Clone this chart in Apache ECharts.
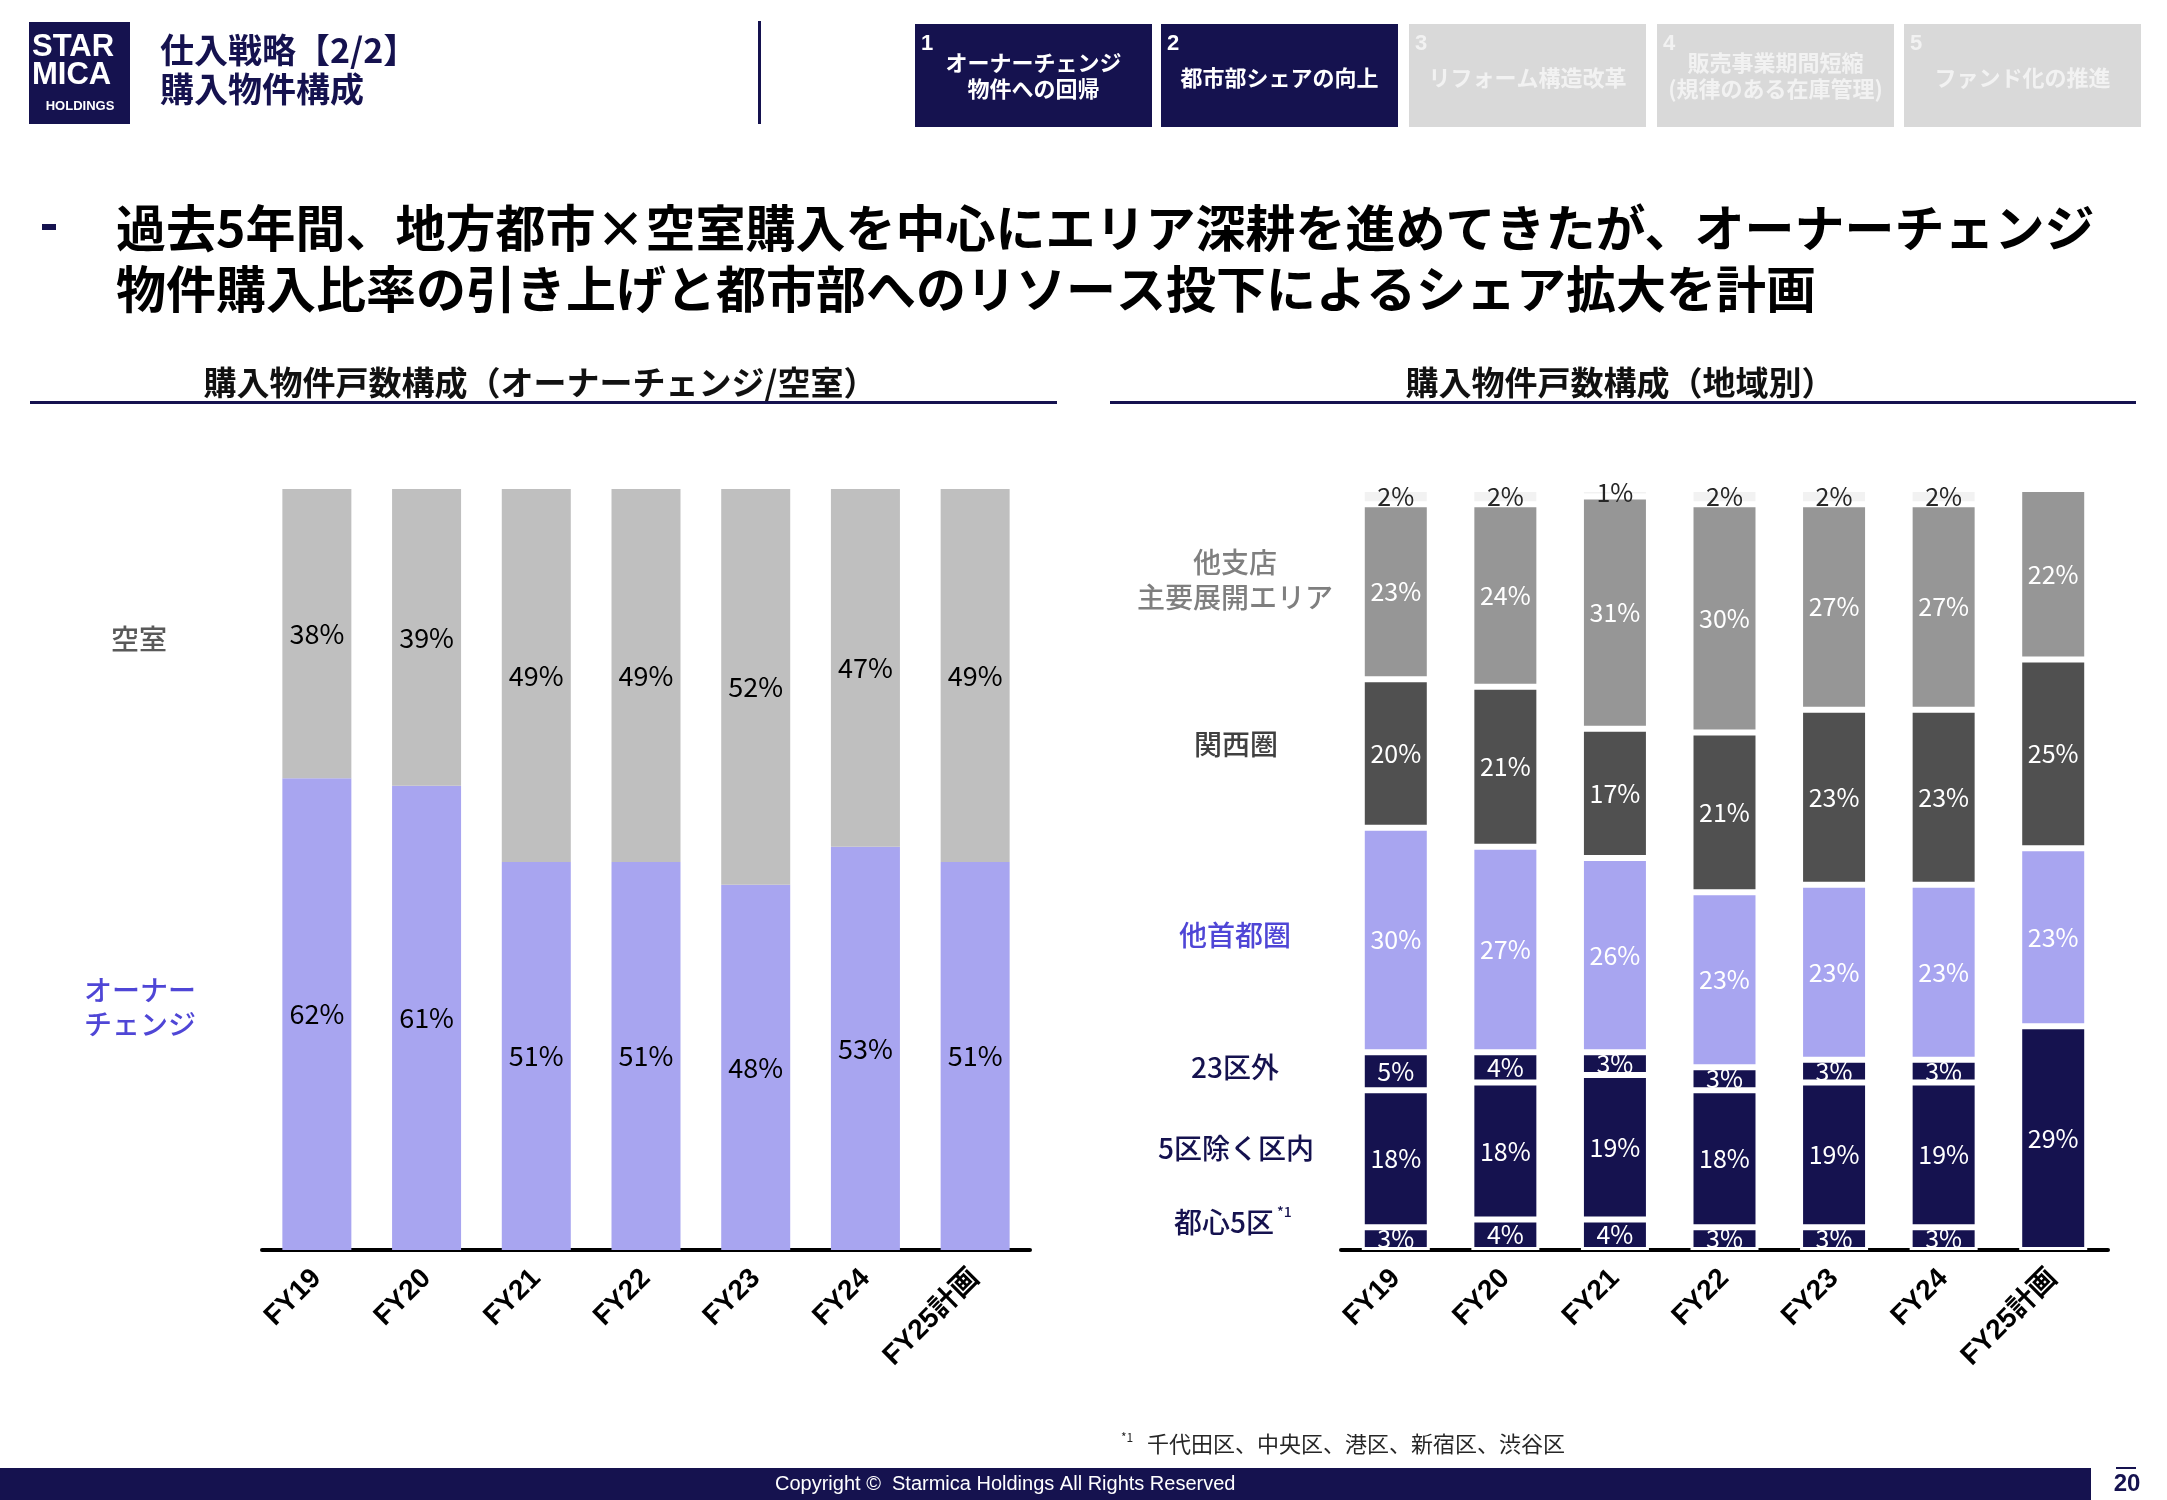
<!DOCTYPE html>
<html>
<head>
<meta charset="utf-8">
<script src="https://cdn.jsdelivr.net/npm/echarts@6/dist/echarts.min.js"></script>
<style>
html,body{margin:0;padding:0;background:#fff;}
#c{width:2167px;height:1500px;}
</style>
</head>
<body>
<div id="c"></div>
<script>
// ---------- data ----------
const categories = ['FY19', 'FY20', 'FY21', 'FY22', 'FY23', 'FY24', 'FY25計画'];

// left chart: owner-change vs vacant (%)
const ownerChangeShare = [62, 61, 51, 51, 48, 53, 51];
const vacantShare      = [38, 39, 49, 49, 52, 47, 49];

// right chart: by region (%), bottom to top
const toshin5ku   = [3, 4, 4, 3, 3, 3, null];
const ku23Excl5   = [18, 18, 19, 18, 19, 19, null];
const outside23ku = [5, 4, 3, 3, 3, 3, null];
const ku23Plan    = [null, null, null, null, null, null, 29.4];
const otherMetro  = [29.5, 27, 25.5, 23, 23, 23, 23.4];
const kansai      = [19.5, 21, 17, 21, 23, 23, 24.8];
const otherBranch = [23, 24, 30.5, 30, 27, 27, 22.4];
const otherArea   = [2, 2, 1, 2, 2, 2, null];

const leftSeriesNames = ['オーナーチェンジ', '空室'];
const rightSeriesNames = ['都心5区', '5区除く区内', '23区外', '23区計', '他首都圏', '関西圏', '他支店 主要展開エリア', 'その他'];

const tabNumbers = ['1', '2', '3', '4', '5'];
const tabTexts = [['オーナーチェンジ', '物件への回帰'], ['都市部シェアの向上'], ['リフォーム構造改革'], ['販売事業期間短縮', '(規律のある在庫管理)'], ['ファンド化の推進']];
const tabActive = [true, true, false, false, false];

// ---------- styling ----------
const NAVY = '#15124F';
const JP = '"Noto Sans CJK JP", "Noto Sans", sans-serif';
const LAT = '"Liberation Sans", "Noto Sans CJK JP", sans-serif';

function T(x, y, text, size, color, weight, align, vAlign, family) {
  return {
    type: 'text', x: x, y: y, z: 100,
    style: {
      text: text, fill: color, fontSize: size, fontWeight: weight || 'normal',
      fontFamily: family || JP,
      align: align || 'left', textAlign: align || 'left',
      verticalAlign: vAlign || 'middle', textVerticalAlign: vAlign || 'middle'
    }
  };
}
function R(x, y, w, h, color) {
  return { type: 'rect', z: 90, shape: { x: x, y: y, width: w, height: h }, style: { fill: color } };
}

const graphics = [];
// logo
graphics.push(R(29, 22, 101, 102, NAVY));
graphics.push(T(32, 47, 'STAR', 31, '#fff', 'bold', 'left', 'middle', LAT));
graphics.push(T(32, 75, 'MICA', 31, '#fff', 'bold', 'left', 'middle', LAT));
graphics.push(T(80, 106, 'HOLDINGS', 13, '#fff', 'bold', 'center', 'middle', LAT));
// title
graphics.push(T(160, 50, '仕入戦略【2/2】', 34, NAVY, 'bold'));
graphics.push(T(160, 89, '購入物件構成', 34, NAVY, 'bold'));
// divider
graphics.push(R(758, 21, 3, 103, NAVY));
// tabs
const tabX = [915, 1161, 1409, 1657, 1904];
for (let i = 0; i < 5; i++) {
  const x = tabX[i], w = 237;
  const bg = tabActive[i] ? NAVY : '#D9D9D9';
  const fg = tabActive[i] ? '#FFFFFF' : '#F2F2F2';
  graphics.push(R(x, 24, w, 103, bg));
  graphics.push(T(x + 6, 44, tabNumbers[i], 22, fg, 'bold', 'left', 'middle', LAT));
  const lines = tabTexts[i];
  if (lines.length === 2) {
    graphics.push(T(x + w / 2, 63, lines[0], 22, fg, 'bold', 'center'));
    graphics.push(T(x + w / 2, 89, lines[1], 22, fg, 'bold', 'center'));
  } else {
    graphics.push(T(x + w / 2, 78, lines[0], 22, fg, 'bold', 'center'));
  }
}
// headline
graphics.push(R(42, 224, 14, 6, NAVY));
graphics.push(T(116, 228, '過去5年間、地方都市×空室購入を中心にエリア深耕を進めてきたが、オーナーチェンジ', 50, '#000', 'bold'));
graphics.push(T(116, 289, '物件購入比率の引き上げと都市部へのリソース投下によるシェア拡大を計画', 50, '#000', 'bold'));
// section headings
graphics.push(T(540, 382, '購入物件戸数構成（オーナーチェンジ/空室）', 33, '#111', 'bold', 'center'));
graphics.push(R(30, 401, 1027, 3, NAVY));
graphics.push(T(1620, 382, '購入物件戸数構成（地域別）', 33, '#111', 'bold', 'center'));
graphics.push(R(1110, 401, 1026, 3, NAVY));
// left series names
graphics.push(T(139, 639, leftSeriesNames[1], 28, '#595959', 500, 'center'));
graphics.push(T(140, 990, 'オーナー', 28, '#4F46D6', 500, 'center'));
graphics.push(T(140, 1024, 'チェンジ', 28, '#4F46D6', 500, 'center'));
// right series names
graphics.push(T(1235, 562, '他支店', 28, '#7F7F7F', 500, 'center'));
graphics.push(T(1235, 597, '主要展開エリア', 28, '#7F7F7F', 500, 'center'));
graphics.push(T(1236, 744, rightSeriesNames[5], 28, '#404040', 500, 'center'));
graphics.push(T(1235, 935, rightSeriesNames[4], 28, '#4F46D6', 500, 'center'));
graphics.push(T(1235, 1067, rightSeriesNames[2], 28, NAVY, 500, 'center'));
graphics.push(T(1236, 1148, rightSeriesNames[1], 28, NAVY, 500, 'center'));
graphics.push(T(1224, 1222, rightSeriesNames[0], 28, NAVY, 500, 'center'));
graphics.push(T(1277, 1212, '*1', 14, NAVY, 500, 'left'));
// footnote
graphics.push(T(1121, 1437, '*1', 12, '#262626', 'normal', 'left'));
graphics.push(T(1147, 1444, '千代田区、中央区、港区、新宿区、渋谷区', 22, '#262626', 'normal', 'left'));
// footer
graphics.push(R(0, 1468, 2091, 32, NAVY));
graphics.push(T(775, 1484, 'Copyright ©  Starmica Holdings All Rights Reserved', 20, '#fff', 'normal', 'left', 'middle', LAT));
graphics.push(R(2116, 1467, 20, 2, NAVY));
graphics.push(T(2127, 1484, '20', 24, NAVY, 'bold', 'center', 'middle', LAT));

// ---------- chart ----------
const labelFmt = p => (p.value == null ? '' : Math.round(p.value) + '%');
function leftBar(name, data, color) {
  return {
    name: name, type: 'bar', stack: 'L', xAxisIndex: 0, yAxisIndex: 0,
    data: data, barWidth: 69, itemStyle: { color: color },
    label: { show: true, position: 'inside', formatter: labelFmt, color: '#000', fontSize: 27, fontFamily: JP }
  };
}
function rightBar(name, data, color, labelColor) {
  return {
    name: name, type: 'bar', stack: 'R', xAxisIndex: 1, yAxisIndex: 1,
    data: data, barWidth: 68,
    itemStyle: { color: color, borderColor: '#fff', borderWidth: 3 },
    label: { show: true, position: 'inside', formatter: labelFmt, color: labelColor || '#fff', fontSize: 25, fontFamily: JP }
  };
}
const xAxisCommon = {
  type: 'category', data: categories,
  axisLine: { show: true, lineStyle: { color: '#000', width: 4 } },
  axisTick: { show: false },
  axisLabel: { rotate: 45, margin: 24, fontSize: 28, fontWeight: 'bold', color: '#000', fontFamily: LAT, interval: 0 }
};
const yAxisCommon = { type: 'value', min: 0, max: 100, show: false, splitLine: { show: false } };

const chart = echarts.init(document.getElementById('c'), null, { renderer: 'canvas' });
chart.setOption({
  backgroundColor: '#fff',
  animation: false,
  grid: [
    { left: 262, top: 489, width: 768, height: 761 },
    { left: 1341, top: 489, width: 767, height: 761 }
  ],
  xAxis: [Object.assign({ gridIndex: 0 }, xAxisCommon), Object.assign({ gridIndex: 1 }, xAxisCommon)],
  yAxis: [Object.assign({ gridIndex: 0 }, yAxisCommon), Object.assign({ gridIndex: 1 }, yAxisCommon)],
  series: [
    leftBar(leftSeriesNames[0], ownerChangeShare, '#A8A5F0'),
    leftBar(leftSeriesNames[1], vacantShare, '#BFBFBF'),
    rightBar(rightSeriesNames[0], toshin5ku, NAVY),
    rightBar(rightSeriesNames[1], ku23Excl5, NAVY),
    rightBar(rightSeriesNames[2], outside23ku, NAVY),
    rightBar(rightSeriesNames[3], ku23Plan, NAVY),
    rightBar(rightSeriesNames[4], otherMetro, '#A8A5F0'),
    rightBar(rightSeriesNames[5], kansai, '#505050'),
    rightBar(rightSeriesNames[6], otherBranch, '#969696'),
    rightBar(rightSeriesNames[7], otherArea, '#F2F2F2', '#262626')
  ],
  graphic: graphics
});
</script>
</body>
</html>
